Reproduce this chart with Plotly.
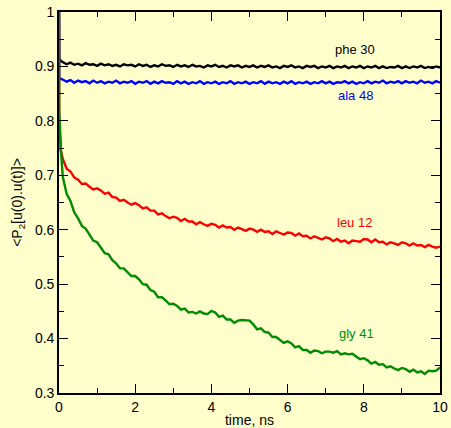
import plotly.graph_objects as go

time_ns = [0.0, 0.005, 0.05,
           0.1, 0.2, 0.3, 0.4, 0.5, 0.6, 0.7, 0.8, 0.9, 1.0,
           1.1, 1.2, 1.3, 1.4, 1.5, 1.6, 1.7, 1.8, 1.9, 2.0,
           2.1, 2.2, 2.3, 2.4, 2.5, 2.6, 2.7, 2.8, 2.9, 3.0,
           3.1, 3.2, 3.3, 3.4, 3.5, 3.6, 3.7, 3.8, 3.9, 4.0,
           4.1, 4.2, 4.3, 4.4, 4.5, 4.6, 4.7, 4.8, 4.9, 5.0,
           5.1, 5.2, 5.3, 5.4, 5.5, 5.6, 5.7, 5.8, 5.9, 6.0,
           6.1, 6.2, 6.3, 6.4, 6.5, 6.6, 6.7, 6.8, 6.9, 7.0,
           7.1, 7.2, 7.3, 7.4, 7.5, 7.6, 7.7, 7.8, 7.9, 8.0,
           8.1, 8.2, 8.3, 8.4, 8.5, 8.6, 8.7, 8.8, 8.9, 9.0,
           9.1, 9.2, 9.3, 9.4, 9.5, 9.6, 9.7, 9.8, 9.9, 10.0]

phe30 = [1.0, 0.915, 0.910,
         0.908, 0.904, 0.907, 0.903, 0.905, 0.902, 0.906, 0.903, 0.904, 0.901,
         0.905, 0.902, 0.904, 0.901, 0.903, 0.900, 0.904, 0.902, 0.903, 0.900,
         0.904, 0.901, 0.903, 0.899, 0.902, 0.900, 0.904, 0.901, 0.902, 0.899,
         0.903, 0.900, 0.902, 0.899, 0.903, 0.900, 0.901, 0.898, 0.902, 0.900,
         0.903, 0.899, 0.901, 0.898, 0.902, 0.900, 0.902, 0.898, 0.901, 0.899,
         0.902, 0.898, 0.901, 0.899, 0.902, 0.898, 0.900, 0.897, 0.901, 0.899,
         0.902, 0.898, 0.900, 0.897, 0.901, 0.899, 0.901, 0.897, 0.900, 0.898,
         0.901, 0.897, 0.900, 0.898, 0.901, 0.897, 0.900, 0.898, 0.901, 0.897,
         0.900, 0.898, 0.901, 0.897, 0.900, 0.897, 0.899, 0.898, 0.901, 0.897,
         0.900, 0.897, 0.900, 0.898, 0.901, 0.897, 0.899, 0.897, 0.900, 0.898]

ala48 = [1.0, 0.880, 0.877,
         0.876, 0.872, 0.875, 0.870, 0.874, 0.871, 0.873, 0.869, 0.874, 0.870,
         0.873, 0.869, 0.872, 0.870, 0.874, 0.869, 0.872, 0.870, 0.873, 0.868,
         0.872, 0.870, 0.873, 0.868, 0.872, 0.869, 0.873, 0.870, 0.871, 0.868,
         0.873, 0.869, 0.872, 0.868, 0.871, 0.869, 0.873, 0.868, 0.871, 0.869,
         0.872, 0.868, 0.871, 0.869, 0.873, 0.868, 0.871, 0.869, 0.872, 0.868,
         0.871, 0.869, 0.873, 0.868, 0.872, 0.869, 0.871, 0.868, 0.872, 0.869,
         0.873, 0.868, 0.871, 0.869, 0.872, 0.868, 0.871, 0.869, 0.873, 0.869,
         0.872, 0.868, 0.871, 0.870, 0.873, 0.869, 0.872, 0.868, 0.871, 0.869,
         0.873, 0.869, 0.872, 0.870, 0.874, 0.869, 0.872, 0.870, 0.873, 0.869,
         0.873, 0.870, 0.872, 0.869, 0.874, 0.870, 0.872, 0.869, 0.873, 0.870]

leu12 = [1.0, 0.80, 0.745,
         0.730, 0.712, 0.707, 0.696, 0.692, 0.684, 0.685, 0.679, 0.674, 0.676,
         0.672, 0.666, 0.668, 0.660, 0.659, 0.653, 0.655, 0.650, 0.646, 0.649,
         0.645, 0.639, 0.641, 0.635, 0.635, 0.628, 0.630, 0.625, 0.621, 0.624,
         0.622, 0.616, 0.620, 0.615, 0.615, 0.610, 0.614, 0.610, 0.607, 0.611,
         0.609, 0.604, 0.608, 0.604, 0.605, 0.600, 0.604, 0.601, 0.598, 0.602,
         0.600, 0.596, 0.600, 0.596, 0.597, 0.592, 0.597, 0.594, 0.591, 0.595,
         0.594, 0.589, 0.593, 0.588, 0.589, 0.584, 0.588, 0.585, 0.582, 0.586,
         0.584, 0.579, 0.583, 0.578, 0.580, 0.575, 0.580, 0.579, 0.578, 0.583,
         0.582, 0.577, 0.582, 0.577, 0.578, 0.573, 0.577, 0.575, 0.572, 0.577,
         0.575, 0.571, 0.575, 0.571, 0.572, 0.568, 0.572, 0.569, 0.567, 0.569]

gly41 = [1.0, 0.82, 0.745,
         0.697, 0.666, 0.653, 0.632, 0.621, 0.607, 0.602, 0.591, 0.580, 0.577,
         0.568, 0.557, 0.555, 0.544, 0.538, 0.529, 0.529, 0.522, 0.515, 0.515,
         0.509, 0.500, 0.499, 0.489, 0.486, 0.476, 0.476, 0.470, 0.463, 0.464,
         0.460, 0.453, 0.455, 0.448, 0.449, 0.446, 0.450, 0.446, 0.445, 0.451,
         0.448, 0.440, 0.442, 0.435, 0.435, 0.429, 0.433, 0.434, 0.433, 0.433,
         0.426, 0.417, 0.419, 0.412, 0.411, 0.403, 0.403, 0.397, 0.392, 0.395,
         0.391, 0.384, 0.386, 0.379, 0.379, 0.374, 0.378, 0.377, 0.373, 0.376,
         0.376, 0.374, 0.377, 0.371, 0.373, 0.371, 0.372, 0.367, 0.362, 0.364,
         0.360, 0.354, 0.357, 0.352, 0.353, 0.347, 0.349, 0.345, 0.342, 0.346,
         0.344, 0.339, 0.343, 0.338, 0.340, 0.335, 0.341, 0.340, 0.341, 0.347]

series_names = ["phe 30", "ala 48", "leu 12", "gly 41"]
series_values = [phe30, ala48, leu12, gly41]
series_colors = ["#000000", "#0000ff", "#ff0000", "#008b00"]
label_x = [7.77, 7.77, 7.75, 7.8]
label_y = [0.932, 0.846, 0.614, 0.41]

x_tick_vals = [0, 2, 4, 6, 8, 10]
x_tick_text = ["0", "2", "4", "6", "8", "10"]
y_tick_vals = [0.3, 0.4, 0.5, 0.6, 0.7, 0.8, 0.9, 1.0]
y_tick_text = ["0.3", "0.4", "0.5", "0.6", "0.7", "0.8", "0.9", "1"]

FONT = "Liberation Sans, Arial, sans-serif"
BG = "#ffffcc"

fig = go.Figure()
for name, vals, col in zip(series_names, series_values, series_colors):
    fig.add_trace(go.Scatter(x=time_ns, y=vals, mode="lines", name=name,
                             line=dict(color=col, width=2.4), showlegend=False))

for name, lx, ly, col in zip(series_names, label_x, label_y, series_colors):
    fig.add_annotation(x=lx, y=ly, text=name, showarrow=False,
                       font=dict(family=FONT, size=13, color=col),
                       xanchor="center", yanchor="middle")

axis_common = dict(showgrid=False, zeroline=False, showline=True, automargin=False,
                   linecolor="black", linewidth=1.6, mirror="allticks",
                   ticks="inside", ticklen=9, tickwidth=1.2, tickcolor="black",
                   tickfont=dict(family=FONT, size=14, color="black"))

fig.update_xaxes(range=[0, 10], tickvals=x_tick_vals, ticktext=x_tick_text,
                 minor=dict(dtick=1, ticklen=5, tickwidth=1.2, tickcolor="black", ticks="inside"),
                 title=dict(text="time, ns", font=dict(family=FONT, size=14, color="black"), standoff=2),
                 **axis_common)
fig.update_yaxes(range=[0.3, 1.0], tickvals=y_tick_vals, ticktext=y_tick_text,
                 minor=dict(dtick=0.05, tick0=0.3, ticklen=5, tickwidth=1.2, tickcolor="black", ticks="inside"),
                 title=dict(text="&lt;P<sub>2</sub>[u(0).u(t)]&gt;", font=dict(family=FONT, size=14, color="black"), standoff=9),
                 **axis_common)

fig.update_layout(template="none", width=451, height=428, paper_bgcolor=BG, plot_bgcolor=BG,
                  margin=dict(l=59, r=11, t=12, b=35), font=dict(family=FONT))

fig.write_html("out.html", config={"displayModeBar": False},
               post_script="document.body.style.margin='0px';document.body.style.overflow='hidden';")
